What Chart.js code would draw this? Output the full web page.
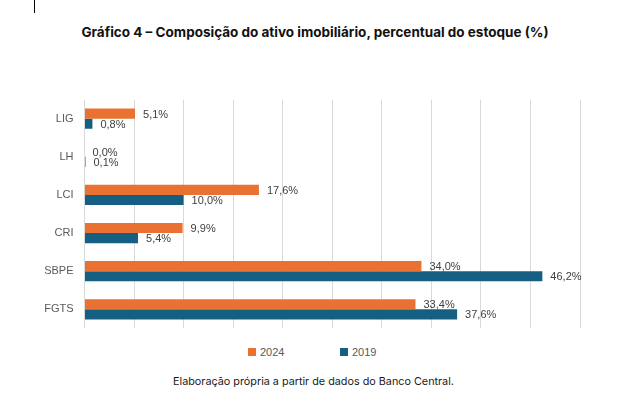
<!DOCTYPE html>
<html>
<head>
<meta charset="utf-8">
<script src="https://cdn.jsdelivr.net/npm/chart.js@4"></script>
<style>
  body { margin: 0; width: 617px; height: 393px; background: #fff; position: relative; overflow: hidden; }
  #cursor { position: absolute; left: 34px; top: 0; width: 1px; height: 13px; background: #000; }
  #title { position: absolute; left: 0; width: 630px; top: 24px; text-align: center; font: bold 13.5px Inter, "Noto Sans", sans-serif; color: #111; }
  #chart { position: absolute; left: 0; top: 90px; }
  #legend { position: absolute; top: 345px; left: 0; width: 617px; font: 11px "Liberation Sans", Arial, sans-serif; color: #595959; }
  .item { position: absolute; top: 0; line-height: 14px; }
  .item span { display: inline-block; width: 8px; height: 8px; margin-right: 4px; }
  #footer { position: absolute; left: 0; width: 627px; top: 375px; text-align: center; font: 10.8px Inter, "Noto Sans", sans-serif; color: #1a1a1a; }
</style>
</head>
<body>
<div id="cursor"></div>
<div id="title">Gráfico 4 – Composição do ativo imobiliário, percentual do estoque (%)</div>
<canvas id="chart" width="617" height="248"></canvas>
<div id="legend"></div>
<div id="footer">Elaboração própria a partir de dados do Banco Central.</div>
<script>
const categories = ['LIG', 'LH', 'LCI', 'CRI', 'SBPE', 'FGTS'];
const values2024 = [5.1, 0.0, 17.6, 9.9, 34.0, 33.4];
const values2019 = [0.8, 0.1, 10.0, 5.4, 46.2, 37.6];
const seriesNames = ['2024', '2019'];
const seriesColors = ['#E97132', '#156082'];

const barLabels = {
  id: 'barLabels',
  afterDatasetsDraw(chart) {
    const ctx = chart.ctx;
    ctx.save();
    ctx.font = '11px "Liberation Sans", Arial, sans-serif';
    ctx.fillStyle = '#404040';
    ctx.textBaseline = 'middle';
    chart.data.datasets.forEach((ds, i) => {
      chart.getDatasetMeta(i).data.forEach((bar, j) => {
        const txt = ds.data[j].toFixed(1).replace('.', ',') + '%';
        ctx.fillText(txt, bar.x + 8, bar.y + 1);
      });
    });
    ctx.restore();
  }
};

new Chart(document.getElementById('chart').getContext('2d'), {
  type: 'bar',
  data: {
    labels: categories,
    datasets: [
      { label: seriesNames[0], data: values2024, backgroundColor: seriesColors[0] },
      { label: seriesNames[1], data: values2019, backgroundColor: seriesColors[1] }
    ]
  },
  options: {
    indexAxis: 'y',
    responsive: false,
    animation: false,
    layout: { padding: { top: 0, right: 37, bottom: 0, left: 0 } },
    datasets: { bar: { categoryPercentage: 0.53, barPercentage: 1 } },
    plugins: { legend: { display: false }, tooltip: { enabled: false } },
    scales: {
      x: {
        min: 0, max: 50,
        ticks: { stepSize: 5, display: false },
        grid: { color: '#d9d9d9', drawTicks: false },
        border: { display: false },
        afterFit: s => { s.height = 0; }
      },
      y: {
        ticks: { color: '#595959', font: { family: '"Liberation Sans", Arial, sans-serif', size: 11 }, padding: 3 },
        grid: { display: false },
        border: { display: false },
        afterFit: s => { s.width = 84.5; }
      }
    }
  },
  plugins: [barLabels]
});

const legend = document.getElementById('legend');
const legendX = [248, 340];
seriesNames.forEach((name, i) => {
  const el = document.createElement('div');
  el.className = 'item';
  el.style.left = legendX[i] + 'px';
  el.innerHTML = `<span style="background:${seriesColors[i]}"></span>${name}`;
  legend.appendChild(el);
});
</script>
</body>
</html>
